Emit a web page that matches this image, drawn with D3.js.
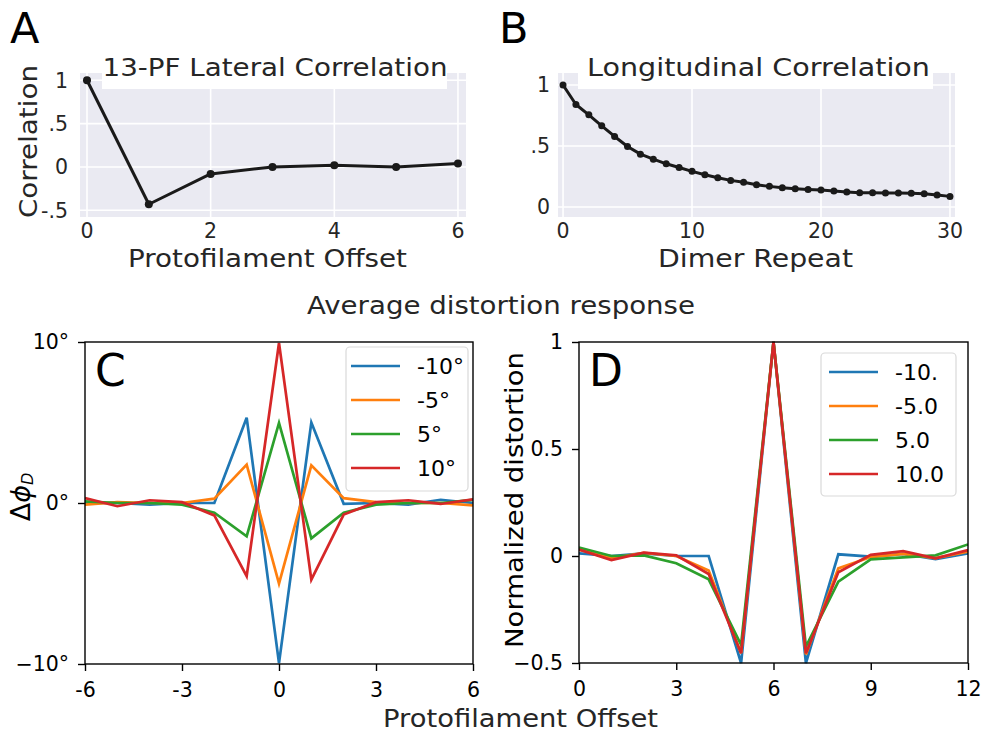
<!DOCTYPE html>
<html><head><meta charset="utf-8">
<script src="https://cdn.jsdelivr.net/npm/d3@7"></script>
<style>body{margin:0;background:#fff}svg{display:block;font-family:"DejaVu Sans",sans-serif}</style>
</head><body><svg id="c" width="985" height="734"></svg>
<script>
// ---- Data ----
const latOffsets = [0,1,2,3,4,5,6];
const latCorr = [1.0,-0.43,-0.08,0.0,0.02,0.0,0.04];
const latYTicks = [1,0.5,0,-0.5];
const latYLabels = ["1",".5","0","-.5"];
const latXTicks = [0,2,4,6];

const longRepeats = d3.range(0,31);
const longCorr = [1.0,0.84,0.755,0.665,0.578,0.496,0.433,0.392,0.354,0.324,0.292,0.264,0.24,0.218,0.202,0.183,0.169,0.158,0.15,0.144,0.139,0.131,0.123,0.117,0.117,0.114,0.114,0.112,0.109,0.098,0.087];
const longYTicks = [1,0.5,0];
const longYLabels = ["1",".5","0"];
const longXTicks = [0,10,20,30];

const cOffsets = [-6,-5,-4,-3,-2,-1,0,1,2,3,4,5,6];
const cSeriesNames = ["-10°","-5°","5°","10°"];
const cBlue   = [0,0,-0.1,0,0,5.3,-9.95,5.0,-0.05,0,-0.1,0.2,0];
const cOrange = [-0.1,0.05,0,0,0.27,2.38,-5.0,2.34,0.3,0.05,0,0,-0.15];
const cGreen  = [0.1,0,0,-0.1,-0.6,-2.07,4.97,-2.2,-0.6,-0.1,0,0,0.2];
const cRed    = [0.3,-0.2,0.17,0.05,-0.77,-4.55,9.94,-4.76,-0.72,0.05,0.17,-0.06,0.23];
const cYTicks = [10,0,-10];
const cYLabels = ["10°","0°","\u221210°"];
const cXTicks = [-6,-3,0,3,6];

const dOffsets = d3.range(0,13);
const dSeriesNames = ["-10.","-5.0","5.0","10.0"];
const dBlue   = [0.012,0,0.012,0,0,-0.5,1,-0.5,0.008,-0.003,0.01,-0.015,0.012];
const dOrange = [0.03,-0.01,0.015,0,-0.068,-0.454,1,-0.46,-0.058,-0.005,0.01,-0.01,0.02];
const dGreen  = [0.04,0,0.003,-0.034,-0.109,-0.415,1,-0.423,-0.12,-0.016,-0.006,0.003,0.054];
const dRed    = [0.03,-0.019,0.016,0.003,-0.084,-0.454,1,-0.455,-0.076,0.005,0.023,-0.011,0.028];
const dYTicks = [1,0.5,0,-0.5];
const dYLabels = ["1","0.5","0","\u22120.5"];
const dXTicks = [0,3,6,9,12];

const colors = ["#1f77b4","#ff7f0e","#2ca02c","#d62728"];

const svg = d3.select("#c");
const FONT = "DejaVu Sans";
const grayText = "#262626";

function wideText(parent, x, y, str, size, len, fill, rot){
  const t = parent.append("text").attr("text-anchor","middle").attr("font-size",size).attr("fill",fill)
    .attr("textLength",len).attr("lengthAdjust","spacingAndGlyphs").text(str);
  if(rot) t.attr("transform",`translate(${x},${y}) rotate(-90)`);
  else t.attr("x",x).attr("y",y);
  return t;
}

// ---- Seaborn-style panel ----
function darkPanel(opt){
  const g = svg.append("g");
  const x = d3.scaleLinear().domain(opt.xdom).range([opt.x0,opt.x1]);
  const y = d3.scaleLinear().domain(opt.ydom).range([opt.y1,opt.y0]);
  g.append("rect").attr("x",opt.x0).attr("y",opt.y0).attr("width",opt.x1-opt.x0).attr("height",opt.y1-opt.y0).attr("fill","#eaeaf2");
  opt.xticks.forEach(t=>g.append("line").attr("x1",x(t)).attr("x2",x(t)).attr("y1",opt.y0).attr("y2",opt.y1).attr("stroke","#fff").attr("stroke-width",1.6));
  opt.yticks.forEach(t=>g.append("line").attr("y1",y(t)).attr("y2",y(t)).attr("x1",opt.x0).attr("x2",opt.x1).attr("stroke","#fff").attr("stroke-width",1.6));
  opt.yticks.forEach((t,i)=>g.append("text").attr("x",opt.ytx).attr("y",y(t)).attr("dy","0.36em").attr("text-anchor","end").attr("font-size",20.5).attr("fill",grayText).text(opt.ylabels[i]));
  opt.xticks.forEach(t=>g.append("text").attr("x",x(t)).attr("y",opt.y1+21).attr("text-anchor","middle").attr("font-size",20.5).attr("fill",grayText).text(String(t)));
  const line = d3.line().x((d,i)=>x(opt.xs[i])).y(d=>y(d));
  g.append("path").datum(opt.ys).attr("d",line).attr("fill","none").attr("stroke","#1a1a1a").attr("stroke-width",3).attr("stroke-linejoin","round");
  g.selectAll("circle.m").data(opt.ys).enter().append("circle").attr("cx",(d,i)=>x(opt.xs[i])).attr("cy",d=>y(d)).attr("r",opt.r).attr("fill","#1a1a1a");
  g.append("rect").attr("x",opt.tbox[0]).attr("y",50).attr("width",opt.tbox[1]-opt.tbox[0]).attr("height",39).attr("fill","#fff");
  wideText(g, opt.tx, 76, opt.title, 25, opt.tlen, grayText);
  wideText(g, opt.xlx, 267, opt.xlabel, 25, opt.xllen, grayText);
  if(opt.ylabel) wideText(g, 37, 141.5, opt.ylabel, 25, opt.yllen, grayText, true);
  g.append("text").attr("x",opt.lx).attr("y",43).attr("font-size",43).attr("fill","#000").text(opt.letter);
}

darkPanel({x0:80,x1:466,y0:73,y1:217,xdom:[-0.113,6.13],ydom:[-0.577,1.084],ytx:68,
  xticks:latXTicks,yticks:latYTicks,ylabels:latYLabels,xs:latOffsets,ys:latCorr,r:4,
  tbox:[102,447],tx:275,tlen:345,title:"13-PF Lateral Correlation",
  xlabel:"Protofilament Offset",xlx:267.5,xllen:279,
  ylabel:"Correlation",yllen:153,lx:10,letter:"A"});
darkPanel({x0:558,x1:955,y0:73,y1:217,xdom:[-0.39,30.39],ydom:[-0.082,1.098],ytx:550,
  xticks:longXTicks,yticks:longYTicks,ylabels:longYLabels,xs:longRepeats,ys:longCorr,r:3.5,
  tbox:[578,933],tx:758.5,tlen:343,title:"Longitudinal Correlation",
  xlabel:"Dimer Repeat",xlx:755.5,xllen:195,
  ylabel:null,lx:499,letter:"B"});

wideText(svg, 501, 314, "Average distortion response", 24, 388, grayText);

// ---- Matplotlib-style panels ----
function linePanel(opt){
  const g = svg.append("g");
  const x = d3.scaleLinear().domain(opt.xdom).range([opt.x0,opt.x1]);
  const y = d3.scaleLinear().domain(opt.ydom).range([opt.y1,opt.y0]);
  const defs = svg.append("defs");
  const cid = "clip"+opt.letter;
  defs.append("clipPath").attr("id",cid).append("rect").attr("x",opt.x0).attr("y",opt.y0-1).attr("width",opt.x1-opt.x0).attr("height",opt.y1-opt.y0+2);
  const line = d3.line().x((d,i)=>x(opt.xs[i])).y(d=>y(d));
  opt.series.forEach((s,k)=>g.append("path").datum(s).attr("d",line).attr("clip-path",`url(#${cid})`).attr("fill","none").attr("stroke",colors[k]).attr("stroke-width",2.7).attr("stroke-linejoin","miter"));
  g.append("rect").attr("x",opt.x0).attr("y",opt.y0).attr("width",opt.x1-opt.x0).attr("height",opt.y1-opt.y0).attr("fill","none").attr("stroke","#000").attr("stroke-width",1.4);
  const xa = d3.axisBottom(x).tickValues(opt.xticks).tickSize(7).tickPadding(11).tickFormat(d=>String(d));
  const gx = g.append("g").attr("transform",`translate(0,${opt.y1})`).call(xa);
  gx.select(".domain").remove();
  gx.selectAll("line").attr("stroke","#000").attr("stroke-width",1.4);
  gx.selectAll("text").attr("font-size",20.5).attr("font-family",FONT).attr("fill","#000");
  const ya = d3.axisLeft(y).tickValues(opt.yticks).tickSize(7).tickPadding(opt.ypad).tickFormat((d,i)=>opt.ylabels[i]);
  const gy = g.append("g").attr("transform",`translate(${opt.x0},0)`).call(ya);
  gy.select(".domain").remove();
  gy.selectAll("line").attr("stroke","#000").attr("stroke-width",1.4);
  gy.selectAll("text").attr("font-size",20.5).attr("font-family",FONT).attr("fill","#000");
  g.append("text").attr("x",opt.x0+10).attr("y",opt.y0+44).attr("font-size",44).attr("fill","#000").text(opt.letter);
  const L = opt.legend;
  g.append("rect").attr("x",L.x).attr("y",L.y).attr("width",L.w).attr("height",L.h).attr("rx",4).attr("fill","#fff").attr("fill-opacity",0.8).attr("stroke","#d9d9d9").attr("stroke-width",1.2);
  opt.names.forEach((n,k)=>{
    const yy = L.y+19+k*34;
    g.append("line").attr("x1",L.x+L.lo).attr("x2",L.x+L.lo+49).attr("y1",yy).attr("y2",yy).attr("stroke",colors[k]).attr("stroke-width",2.7);
    g.append("text").attr("x",L.x+L.to).attr("y",yy).attr("dy","0.36em").attr("font-size",22).attr("fill","#000").text(n);
  });
}

linePanel({x0:85,x1:473,y0:342,y1:664,xdom:[-6,6],ydom:[-10,10],xs:cOffsets,series:[cBlue,cOrange,cGreen,cRed],
  xticks:cXTicks,yticks:cYTicks,ylabels:cYLabels,ypad:9,letter:"C",names:cSeriesNames,
  legend:{x:346,y:347,w:122,h:144,lo:5,to:71}});
linePanel({x0:579,x1:968,y0:342,y1:663,xdom:[0,12],ydom:[-0.5,1],xs:dOffsets,series:[dBlue,dOrange,dGreen,dRed],
  xticks:dXTicks,yticks:dYTicks,ylabels:dYLabels,ypad:9,letter:"D",names:dSeriesNames,
  legend:{x:821,y:353,w:135,h:143,lo:8,to:74}});

svg.append("text").attr("transform","translate(30,497) rotate(-90)").attr("text-anchor","middle").attr("font-size",27).attr("fill","#000")
  .html('\u0394<tspan font-style="italic">\u03d5</tspan><tspan font-style="italic" font-size="16" dy="3">D</tspan>');
wideText(svg, 523, 500, "Normalized distortion", 25, 296, "#000", true);
wideText(svg, 520.5, 727, "Protofilament Offset", 25, 275, grayText);
</script></body></html>
